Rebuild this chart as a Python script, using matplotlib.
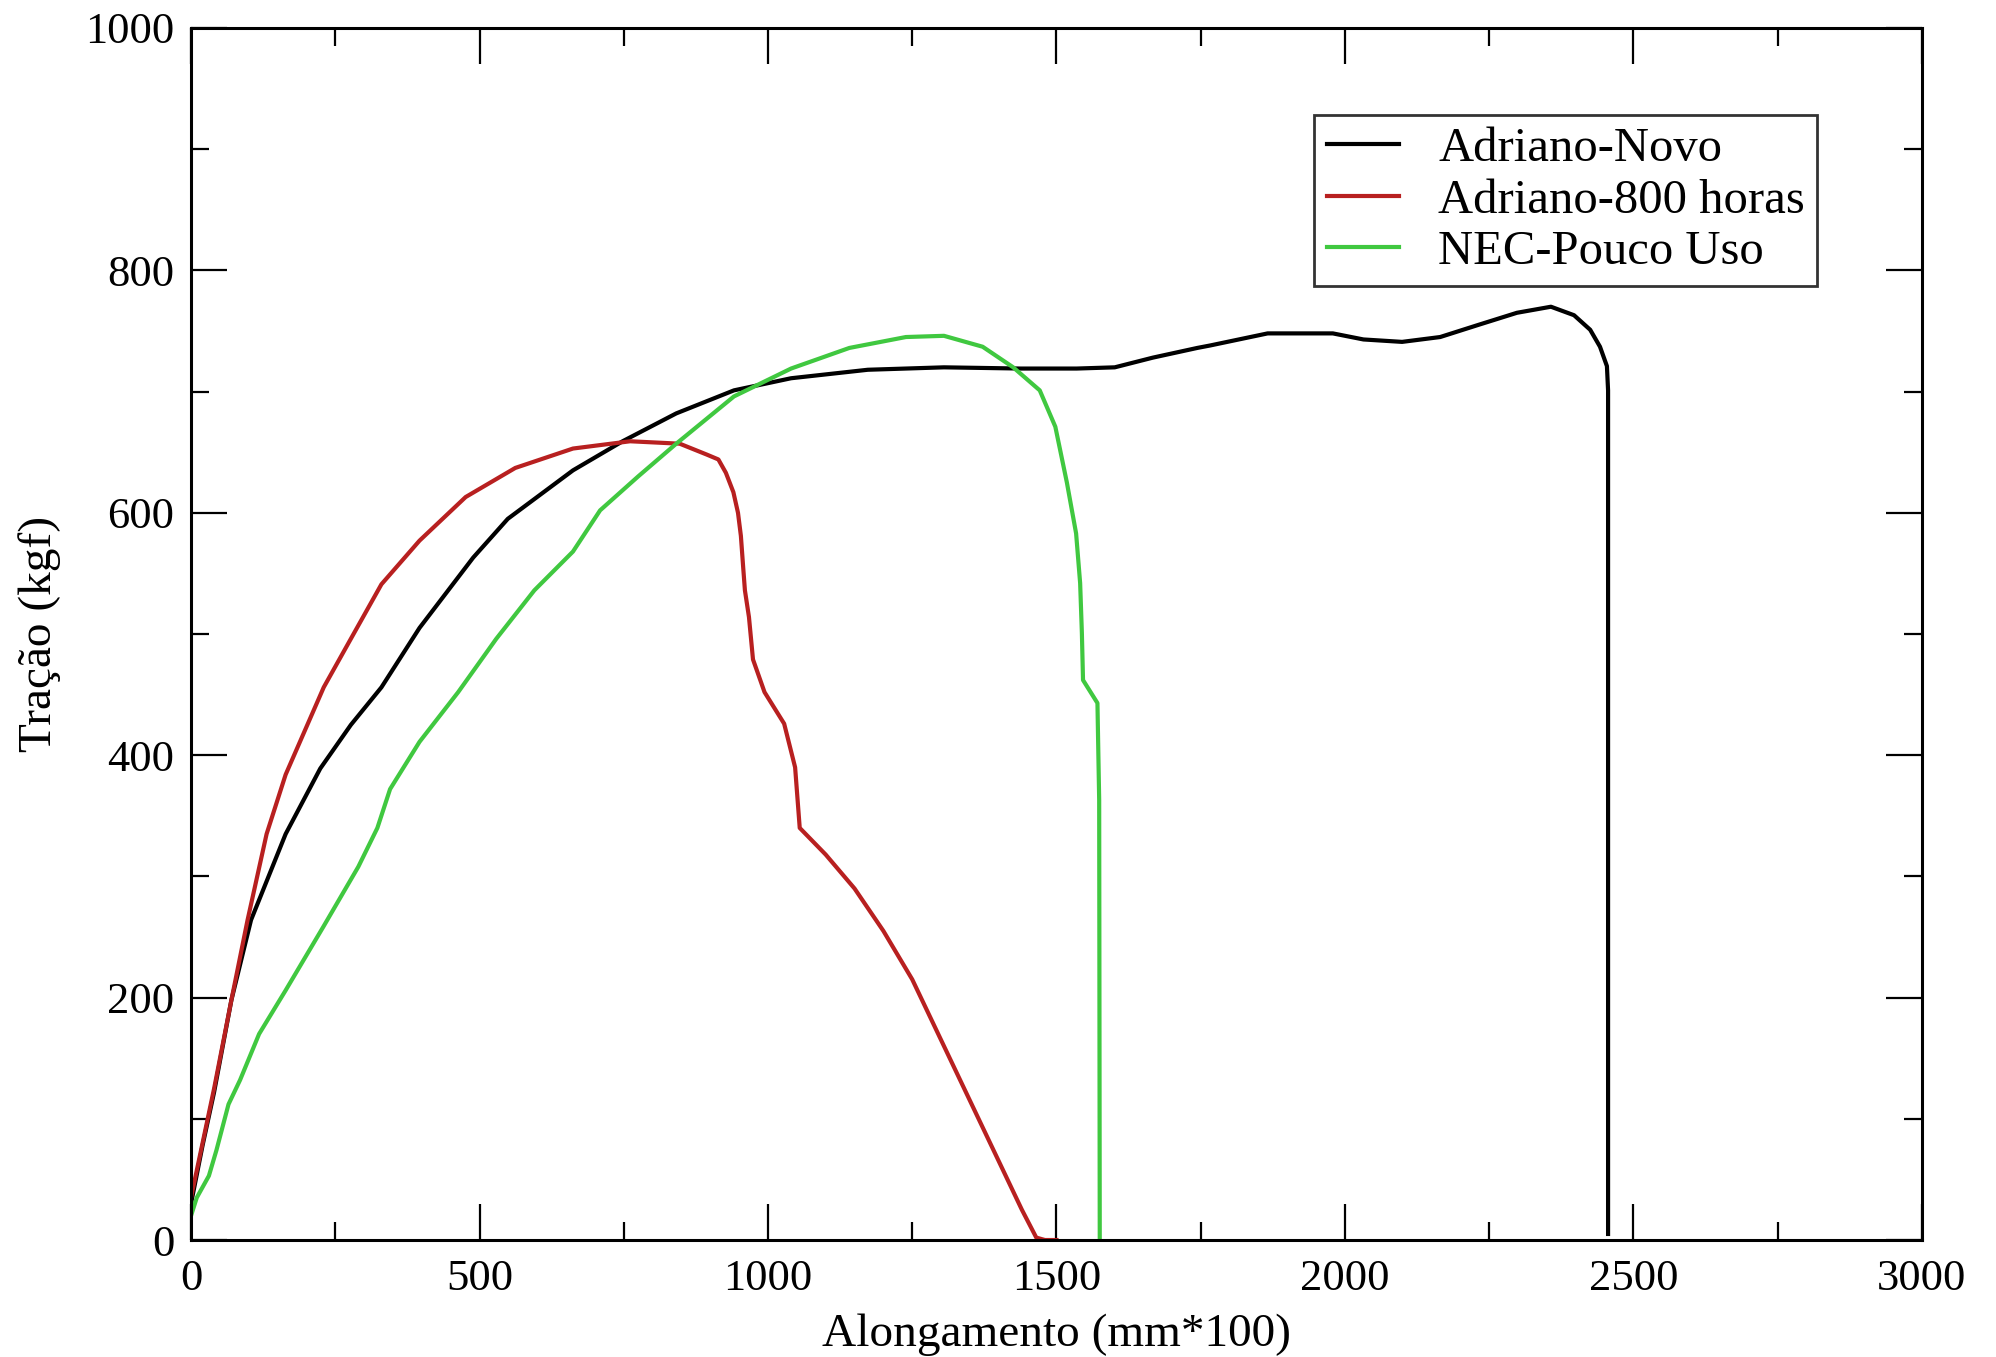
import numpy as np
import matplotlib
matplotlib.use("Agg")
import matplotlib.pyplot as plt
from matplotlib.ticker import MultipleLocator

# Adriano-Novo
novo_x = [0, 20, 40, 70, 104, 164, 224, 277, 330, 396, 489, 549, 662, 748, 841,
          941, 1040, 1173, 1305, 1438, 1535, 1601, 1667, 1744, 1766, 1866, 1979,
          2032, 2099, 2165, 2231, 2298, 2357, 2397, 2425, 2442, 2454, 2456, 2456]
novo_y = [30, 78, 122, 198, 264, 335, 389, 425, 456, 505, 563, 595, 635, 659, 682,
          701, 711, 718, 720, 719, 719, 720, 728, 736, 738, 748, 748,
          743, 741, 745, 755, 765, 770, 763, 751, 737, 721, 701, 5]

# Adriano-800 horas
h800_x = [0, 20, 40, 70, 98, 131, 164, 197, 230, 277, 330, 396, 476, 562, 662, 761,
          847, 894, 914, 927, 940, 948, 953, 957, 960, 967, 974, 994, 1028, 1047,
          1055, 1100, 1150, 1200, 1250, 1300, 1350, 1400, 1440, 1465, 1480, 1500]
h800_y = [35, 80, 125, 198, 264, 335, 384, 420, 456, 496, 541, 577, 613, 637, 653, 659,
          657, 648, 644, 633, 617, 600, 581, 555, 536, 514, 479, 452, 426, 390,
          340, 318, 290, 255, 215, 165, 115, 65, 25, 2, 0, 0]

# NEC-Pouco Uso
nec_x = [0, 10, 31, 44, 65, 85, 118, 164, 230, 290, 323, 345, 396, 463, 529, 595,
         662, 709, 775, 841, 941, 1040, 1141, 1239, 1305, 1372, 1425, 1471, 1498,
         1518, 1534, 1541, 1544, 1546, 1571, 1574, 1575]
nec_y = [20, 35, 53, 74, 112, 132, 170, 206, 259, 308, 340, 372, 411, 452, 496, 536,
         568, 602, 630, 657, 696, 719, 736, 745, 746, 737, 720, 701, 671,
         625, 583, 542, 501, 462, 443, 363, 0]

labels = ["Adriano-Novo", "Adriano-800 horas", "NEC-Pouco Uso"]
colors = ["black", "#b82020", "#40c840"]

plt.rcParams['font.family'] = ['Liberation Serif', 'DejaVu Serif']

fig = plt.figure(figsize=(19.96, 13.57), dpi=100)
ax = fig.add_axes([0.0957, 0.0862, 0.8672, 0.8932])

for xs, ys, lab, c in zip([novo_x, h800_x, nec_x], [novo_y, h800_y, nec_y], labels, colors):
    ax.plot(xs, ys, color=c, lw=3.0, label=lab, solid_joinstyle='round')

ax.set_xlim(0, 3000)
ax.set_ylim(0, 1000)
ax.xaxis.set_major_locator(MultipleLocator(500))
ax.xaxis.set_minor_locator(MultipleLocator(250))
ax.yaxis.set_major_locator(MultipleLocator(200))
ax.yaxis.set_minor_locator(MultipleLocator(100))
ax.tick_params(which='both', direction='in', top=True, right=True, width=1.6)
ax.tick_params(which='major', length=26, labelsize=32)
ax.tick_params(axis='x', which='major', pad=14)
ax.tick_params(axis='y', which='major', pad=12)
ax.tick_params(which='minor', length=13)
for s in ax.spines.values():
    s.set_linewidth(2.2)

ax.set_xlabel("Alongamento (mm*100)", fontsize=34, labelpad=10)
ax.set_ylabel("Tração (kgf)", fontsize=34, labelpad=17)

leg = ax.legend(loc='upper left', bbox_to_anchor=(0.649, 0.928), fontsize=35,
                frameon=True, fancybox=False, handlelength=1.5, handletextpad=0.8,
                labelspacing=0.15, borderpad=0.25, borderaxespad=0)
leg.get_frame().set_edgecolor('black')
leg.get_frame().set_linewidth(2.0)

fig.savefig("out.png", dpi=100)
